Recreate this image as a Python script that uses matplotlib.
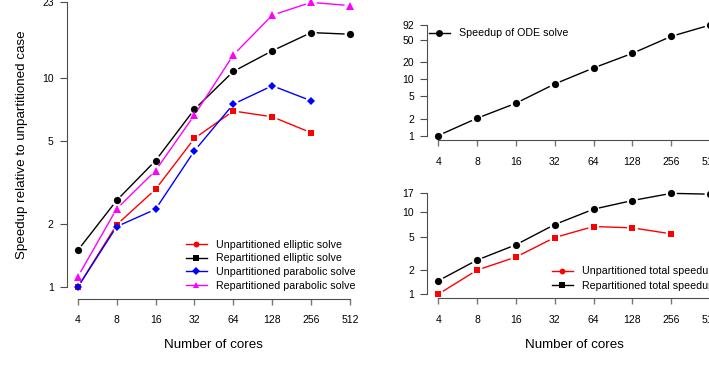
import numpy as np
import matplotlib
matplotlib.use('Agg')
import matplotlib.pyplot as plt
from matplotlib.lines import Line2D

plt.rcParams['font.family'] = ['Liberation Sans', 'DejaVu Sans']

# speedup data
cores = [4, 8, 16, 32, 64, 128, 256, 512]
unpart_elliptic = [1.0, 1.99, 2.94, 5.15, 6.96, 6.53, 5.48]
repart_elliptic = [1.50, 2.60, 4.03, 7.09, 10.76, 13.5, 16.5, 16.2]
unpart_parabolic = [1.0, 1.95, 2.36, 4.49, 7.51, 9.19, 7.79]
repart_parabolic = [1.12, 2.37, 3.61, 6.66, 12.9, 20.0, 23.0, 22.2]
ode_speedup = [1.0, 2.03, 3.75, 8.26, 15.9, 28.9, 57.9, 92.0]
unpart_total = [1.0, 1.97, 2.84, 4.92, 6.70, 6.45, 5.45]
repart_total = [1.46, 2.61, 4.01, 7.08, 10.9, 13.9, 17.0, 16.6]

left_yticks = [1, 2, 5, 10, 23]
ode_yticks = [1, 2, 5, 10, 20, 50, 92]
total_yticks = [1, 2, 5, 10, 17]

W, H = 709, 365
AX_COL = '#4d4d4d'
fig = plt.figure(figsize=(W / 100, H / 100), dpi=100)


def px_box(x0, x1, ytop, ybot):
    return [x0 / W, 1 - ybot / H, (x1 - x0) / W, (ybot - ytop) / H]


def r_limits(lo, hi):
    # R style log axis: 4% extension on each side
    a, b = np.log10(lo), np.log10(hi)
    e = 0.04 * (b - a)
    return 10 ** (a - e), 10 ** (b + e)


def setup(ax, yticks, ydata):
    ax.set_xscale('log', base=2)
    ax.set_yscale('log')
    ax.set_xlim(*r_limits(cores[0], cores[-1]))
    ax.set_ylim(*r_limits(min(ydata), max(ydata)))
    ax.patch.set_visible(False)
    for s in ['top', 'right']:
        ax.spines[s].set_visible(False)
    for s in ['left', 'bottom']:
        ax.spines[s].set_color(AX_COL)
        ax.spines[s].set_linewidth(0.8)
    ax.spines['left'].set_bounds(yticks[0], yticks[-1])
    ax.spines['bottom'].set_bounds(cores[0], cores[-1])
    ax.set_xticks(cores)
    ax.set_xticklabels([str(c) for c in cores])
    ax.set_yticks(yticks)
    ax.set_yticklabels([str(t) for t in yticks])
    ax.minorticks_off()
    ax.tick_params(axis='x', length=4.5, width=1.0, color='#777777', pad=7.5,
                   labelsize=7.5, labelcolor='black')
    ax.tick_params(axis='y', length=5, width=0.8, color=AX_COL, pad=4.5,
                   labelsize=7.5, labelcolor='black')


def gap_series(ax, x, y, color, marker, ms, gap=5.5):
    # R type="b": line segments stop short of the points
    pts = ax.transData.transform(np.column_stack([x, y]))
    inv = ax.transData.inverted()
    for p, q in zip(pts[:-1], pts[1:]):
        d = q - p
        L = np.hypot(*d)
        if L <= 2 * gap:
            continue
        u = d / L
        a, b = inv.transform(np.array([p + u * gap, q - u * gap]))
        ax.plot([a[0], b[0]], [a[1], b[1]], color=color, lw=1.0,
                solid_capstyle='butt', clip_on=False)
    ax.plot(x, y, linestyle='none', marker=marker, color=color, ms=ms,
            markeredgewidth=0, clip_on=False)


def handle(color, marker, ms=4.2):
    return Line2D([], [], color=color, lw=1.0, marker=marker, ms=ms,
                  markeredgewidth=0)


# left panel
ax1 = fig.add_axes(px_box(66.8, 361, -9, 298.7))
setup(ax1, left_yticks, repart_parabolic + unpart_elliptic)
n = len(unpart_elliptic)
gap_series(ax1, cores[:n], unpart_elliptic, 'red', 's', 4.6)
gap_series(ax1, cores, repart_elliptic, 'black', 'o', 5.2)
gap_series(ax1, cores[:n], unpart_parabolic, 'blue', 'D', 4.4)
gap_series(ax1, cores, repart_parabolic, 'magenta', '^', 5.6)
ax1.legend([handle('red', 'o'), handle('black', 's'), handle('blue', 'D'),
            handle('magenta', '^', 4.8)],
           ['Unpartitioned elliptic solve', 'Repartitioned elliptic solve',
            'Unpartitioned parabolic solve', 'Repartitioned parabolic solve'],
           loc='upper left', bbox_to_anchor=(185.7 / W, 1 - 239.5 / H),
           bbox_transform=fig.transFigure, frameon=False, fontsize=7.7,
           handlelength=1.95, handletextpad=0.9, borderpad=0, borderaxespad=0,
           labelspacing=0.36)

# top right panel
ax2 = fig.add_axes(px_box(427.3, 721, 20.6, 140))
setup(ax2, ode_yticks, ode_speedup)
gap_series(ax2, cores, ode_speedup, 'black', 'o', 5.2)
ax2.legend([handle('black', 'o', 5)], ['Speedup of ODE solve'],
           loc='upper left', bbox_to_anchor=(429 / W, 1 - 28.5 / H),
           bbox_transform=fig.transFigure, frameon=False, fontsize=7.7,
           handlelength=1.95, handletextpad=0.9, borderpad=0, borderaxespad=0)

# bottom right panel
ax3 = fig.add_axes(px_box(427.3, 721, 189.3, 298.3))
setup(ax3, total_yticks, repart_total + unpart_total)
m = len(unpart_total)
gap_series(ax3, cores[:m], unpart_total, 'red', 's', 4.6)
gap_series(ax3, cores, repart_total, 'black', 'o', 5.2)
ax3.legend([handle('red', 'o'), handle('black', 's')],
           ['Unpartitioned total speedup', 'Repartitioned total speedup'],
           loc='upper left', bbox_to_anchor=(552 / W, 1 - 266.5 / H),
           bbox_transform=fig.transFigure, frameon=False, fontsize=7.7,
           handlelength=1.95, handletextpad=0.9, borderpad=0, borderaxespad=0,
           labelspacing=0.4)

# axis titles
for ax in (ax1, ax3):
    b = ax.get_position()
    fig.text((b.x0 + b.x1) / 2, 1 - 345 / H, 'Number of cores', ha='center',
             va='center', fontsize=9.6)
b = ax1.get_position()
fig.text(22 / W, (b.y0 + b.y1) / 2, 'Speedup relative to unpartitioned case',
         rotation=90, ha='center', va='center', fontsize=9.6)

fig.savefig('out.png', dpi=100)
